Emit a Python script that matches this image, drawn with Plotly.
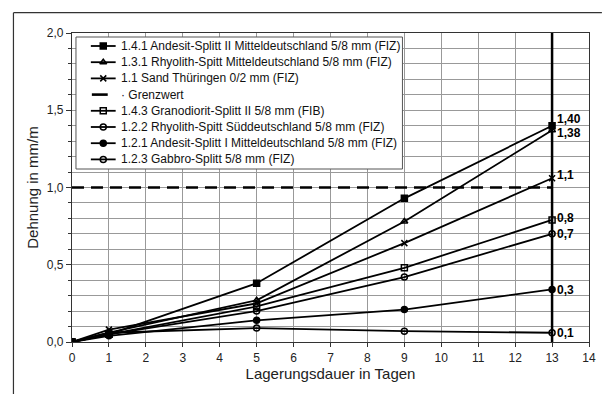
import plotly.graph_objects as go

days = [0, 1, 5, 9, 13]

names = [
    "1.4.1 Andesit-Splitt II Mitteldeutschland 5/8 mm (FIZ)",
    "1.3.1 Rhyolith-Spitt Mitteldeutschland 5/8 mm (FIZ)",
    "1.1 Sand Thüringen 0/2 mm (FIZ)",
    "1.4.3 Granodiorit-Splitt II 5/8 mm (FIB)",
    "1.2.2 Rhyolith-Spitt Süddeutschland 5/8 mm (FIZ)",
    "1.2.1 Andesit-Splitt I Mitteldeutschland 5/8 mm (FIZ)",
    "1.2.3 Gabbro-Splitt 5/8 mm (FIZ)",
]
s_141 = [0, 0.05, 0.38, 0.93, 1.40]
s_131 = [0, 0.06, 0.27, 0.78, 1.37]
s_11 = [0, 0.08, 0.25, 0.64, 1.06]
s_143 = [0, 0.05, 0.23, 0.48, 0.79]
s_122 = [0, 0.05, 0.20, 0.42, 0.70]
s_121 = [0, 0.04, 0.14, 0.21, 0.34]
s_123 = [0, 0.06, 0.09, 0.07, 0.06]
series = [s_141, s_131, s_11, s_143, s_122, s_121, s_123]
symbols = ["square", "triangle-up-open", "x-thin-open", "square-open",
           "circle-open", "circle", "circle-open"]

grenz_name = "Grenzwert"
grenz_x = [0, 13]
grenz_y = [1.0, 1.0]

end_labels = ["1,40", "1,38", "1,1", "0,8", "0,7", "0,3", "0,1"]
end_label_y = [1.445, 1.35, 1.08, 0.80, 0.70, 0.335, 0.06]

# legend order as in the reference
legend_order = [0, 1, 2, "g", 3, 4, 5, 6]

# plot-area geometry in pixels (for paper-fraction conversion)
PL, PR, PT, PB = 72, 593, 33, 342
PW, PH = PR - PL, PB - PT


def px(x):
    return (x - PL) / PW


def py(y):
    return (PB - y) / PH


fig = go.Figure()

for i in range(7):
    fig.add_trace(go.Scatter(
        x=days, y=series[i], name=names[i], mode="lines+markers",
        line=dict(color="black", width=1.8),
        marker=dict(symbol=symbols[i], size=6, color="black",
                    line=dict(color="black", width=1.5)),
        showlegend=False,
    ))
fig.add_trace(go.Scatter(
    x=grenz_x, y=grenz_y, name=grenz_name, mode="lines",
    line=dict(color="black", width=2.6, dash="12px,7px"),
    showlegend=False,
))

# vertical line at day 13
fig.add_shape(type="line", x0=13, x1=13, y0=0, y1=2.0, xref="x", yref="y",
              line=dict(color="black", width=2.5))

for t, yv in zip(end_labels, end_label_y):
    fig.add_annotation(x=13, y=yv, text="<b>" + t + "</b>", showarrow=False,
                       xanchor="left", xshift=3, yanchor="middle",
                       font=dict(size=12, color="black", family="Liberation Sans"))

# ---- manual legend on an invisible overlay axis (0..1 = plot area) ----
lx0, lx1, ly0, ly1 = px(76), px(405), py(169), py(37)
fig.add_trace(go.Scatter(
    x=[lx0, lx1, lx1, lx0, lx0], y=[ly0, ly0, ly1, ly1, ly0],
    xaxis="x2", yaxis="y2", mode="lines", fill="toself",
    fillcolor="white", line=dict(color="#555555", width=1),
    hoverinfo="skip", showlegend=False,
))
row_y0, row_dy = 46, 16.2
for r, key in enumerate(legend_order):
    yy = py(row_y0 + r * row_dy)
    if key == "g":
        fig.add_trace(go.Scatter(
            x=[px(92), px(108)], y=[yy, yy], xaxis="x2", yaxis="y2",
            mode="lines", line=dict(color="black", width=2.6),
            hoverinfo="skip", showlegend=False))
        label = "· " + grenz_name
    else:
        fig.add_trace(go.Scatter(
            x=[px(91), px(116)], y=[yy, yy], xaxis="x2", yaxis="y2",
            mode="lines", line=dict(color="black", width=1.8),
            hoverinfo="skip", showlegend=False))
        fig.add_trace(go.Scatter(
            x=[px(103.5)], y=[yy], xaxis="x2", yaxis="y2", mode="markers",
            marker=dict(symbol=symbols[key], size=6, color="black",
                        line=dict(color="black", width=1.5)),
            hoverinfo="skip", showlegend=False))
        label = names[key]
    fig.add_annotation(x=px(119), y=yy, xref="paper", yref="paper",
                       text=label, showarrow=False, xanchor="left",
                       yanchor="middle",
                       font=dict(size=12, color="#111111",
                                 family="Liberation Sans"))

# outer frame: left edge and top edge (no right edge in the reference)
fig.add_shape(type="line", xref="paper", yref="paper",
              x0=px(13), x1=px(13), y0=py(12.7), y1=py(394),
              line=dict(color="#333333", width=1.2), layer="below")
fig.add_shape(type="line", xref="paper", yref="paper",
              x0=px(13), x1=px(606), y0=py(12.7), y1=py(12.7),
              line=dict(color="#333333", width=1.2), layer="below")

fig.update_layout(
    width=608, height=395,
    margin=dict(l=PL, r=608 - PR, t=PT, b=395 - PB),
    paper_bgcolor="white", plot_bgcolor="white",
    separators=",.",
    font=dict(family="Liberation Sans", size=12, color="#222222"),
    showlegend=False,
    xaxis=dict(range=[0, 14], dtick=1, tick0=0, showgrid=True,
               gridcolor="#999999", gridwidth=1, showline=True,
               linecolor="#333333", linewidth=1.2, mirror=True,
               ticks="outside", ticklen=4, tickcolor="#333333",
               zeroline=False,
               title=dict(text="Lagerungsdauer in Tagen", font=dict(size=15),
                          standoff=4)),
    yaxis=dict(range=[0, 2.0], dtick=0.5, tick0=0, tickformat=".1f",
               showgrid=True, gridcolor="#999999", gridwidth=1,
               minor=dict(dtick=0.1, showgrid=True, gridcolor="#999999",
                          gridwidth=1, ticks="outside", ticklen=3,
                          tickcolor="#333333"),
               showline=True, linecolor="#333333", linewidth=1.2, mirror=True,
               ticks="outside", ticklen=5, tickcolor="#333333",
               zeroline=False,
               title=dict(text="Dehnung in mm/m", font=dict(size=15),
                          standoff=4)),
    xaxis2=dict(overlaying="x", range=[0, 1], visible=False, fixedrange=True),
    yaxis2=dict(overlaying="y", range=[0, 1], visible=False, fixedrange=True),
)

fig.write_html("out.html")
